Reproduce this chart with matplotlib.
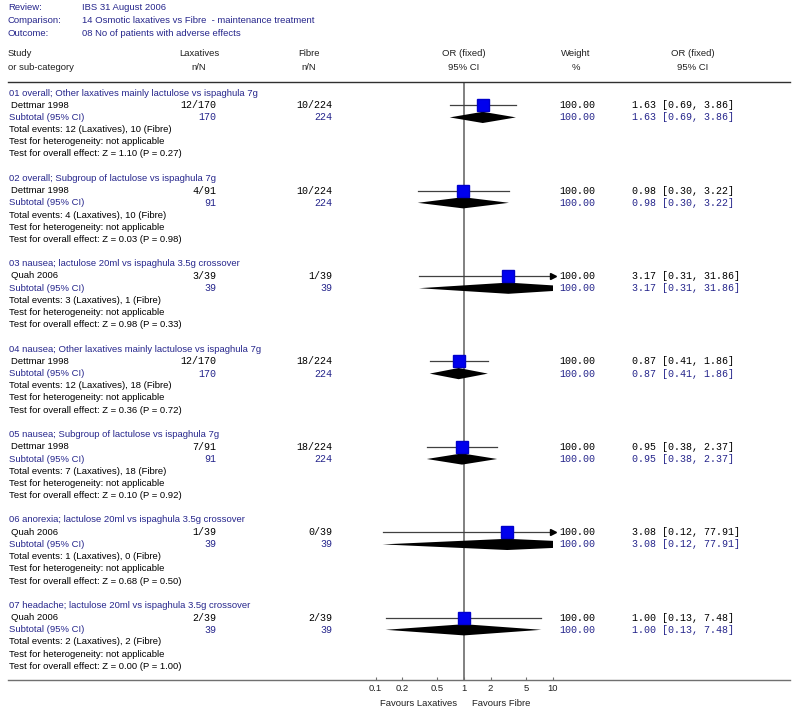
import matplotlib
matplotlib.use("Agg")
import matplotlib.pyplot as plt
import matplotlib.transforms as mtransforms
import matplotlib.patches as mpatches
import numpy as np

# ---------------- data ----------------
review = "IBS 31 August 2006"
comparison = "14 Osmotic laxatives vs Fibre  - maintenance treatment"
outcome = "08 No of patients with adverse effects"

groups = [
    "01 overall; Other laxatives mainly lactulose vs ispaghula 7g",
    "02 overall; Subgroup of lactulose vs ispaghula 7g",
    "03 nausea; lactulose 20ml vs ispaghula 3.5g crossover",
    "04 nausea; Other laxatives mainly lactulose vs ispaghula 7g",
    "05 nausea; Subgroup of lactulose vs ispaghula 7g",
    "06 anorexia; lactulose 20ml vs ispaghula 3.5g crossover",
    "07 headache; lactulose 20ml vs ispaghula 3.5g crossover",
]
studies = ["Dettmar 1998", "Dettmar 1998", "Quah 2006", "Dettmar 1998",
           "Dettmar 1998", "Quah 2006", "Quah 2006"]
lax_events = [12, 4, 3, 12, 7, 1, 2]
lax_total = [170, 91, 39, 170, 91, 39, 39]
fib_events = [10, 10, 1, 18, 18, 0, 2]
fib_total = [224, 224, 39, 224, 224, 39, 39]
weights = [100.00, 100.00, 100.00, 100.00, 100.00, 100.00, 100.00]
or_est = [1.63, 0.98, 3.17, 0.87, 0.95, 3.08, 1.00]
or_lo = [0.69, 0.30, 0.31, 0.41, 0.38, 0.12, 0.13]
or_hi = [3.86, 3.22, 31.86, 1.86, 2.37, 77.91, 7.48]
z_vals = ["1.10", "0.03", "0.98", "0.36", "0.10", "0.68", "0.00"]
p_vals = ["0.27", "0.98", "0.33", "0.72", "0.92", "0.50", "1.00"]
tick_vals = [0.1, 0.2, 0.5, 1, 2, 5, 10]
tick_labels = ["0.1", "0.2", "0.5", "1", "2", "5", "10"]

# ---------------- layout ----------------
W, H = 800, 713
fig = plt.figure(figsize=(W / 100, H / 100), dpi=100)
fig.patch.set_facecolor("white")

BLUE = "#26268c"
SANS = "Liberation Sans"
MONO = "Liberation Mono"
FS = 6.8
FM = 7.2

def fx(px):
    return px / W

def fy(py):
    return 1 - py / H

ax_left, ax_right, ax_top, ax_bot = 8, 790, 82, 680
ax = fig.add_axes([fx(ax_left), fy(ax_bot), fx(ax_right - ax_left), (ax_bot - ax_top) / H])
ax.set_xscale("log")
ppd = 88.5  # pixels per decade
x1 = 464
ax.set_xlim(10 ** ((ax_left - x1) / ppd), 10 ** ((ax_right - x1) / ppd))
pitch = 12.2
row0 = 93
ax.set_ylim((ax_bot - row0) / pitch, (ax_top - row0) / pitch)
ax.set_facecolor("none")
for s in ["left", "right"]:
    ax.spines[s].set_visible(False)
ax.spines["top"].set_color("#303030")
ax.spines["top"].set_linewidth(1.0)
ax.spines["bottom"].set_color("#707070")
ax.spines["bottom"].set_linewidth(1.0)
ax.set_yticks([])
ax.set_xticks(tick_vals)
ax.set_xticklabels(tick_labels, fontsize=FS, family=SANS, color="#202020")
ax.xaxis.set_minor_locator(matplotlib.ticker.NullLocator())
ax.tick_params(axis="x", direction="in", length=2, color="#707070", pad=3)

# vertical line at 1
ax.axvline(1, color="#808080", lw=1.4, zorder=1)

trans = mtransforms.blended_transform_factory(fig.transFigure, ax.transData)

def txt(px, row, s, ha="left", color="black", mono=False, fs=None):
    ax.text(fx(px), row, s, transform=trans, ha=ha, va="center", color=color,
            family=MONO if mono else SANS, fontsize=fs or (FM if mono else FS),
            clip_on=False)

# header texts
for i, (lab, val) in enumerate([("Review:", review), ("Comparison:", comparison), ("Outcome:", outcome)]):
    y = 8 + i * 12.5
    fig.text(fx(8), fy(y), lab, color=BLUE, family=SANS, fontsize=FS, va="center")
    fig.text(fx(82), fy(y), val, color=BLUE, family=SANS, fontsize=FS, va="center")

hy1, hy2 = 54, 67
fig.text(fx(8), fy(hy1), "Study", family=SANS, fontsize=FS, va="center", color="#202020")
fig.text(fx(8), fy(hy2), "or sub-category", family=SANS, fontsize=FS, va="center", color="#202020")
for cx, a, b in [(199, "Laxatives", "n/N"), (309, "Fibre", "n/N"),
                 (464, "OR (fixed)", "95% CI"), (576, "Weight", "%"),
                 (693, "OR (fixed)", "95% CI")]:
    fig.text(fx(cx), fy(hy1), a, family=SANS, fontsize=FS, va="center", ha="center", color="#202020")
    fig.text(fx(cx), fy(hy2), b, family=SANS, fontsize=FS, va="center", ha="center", color="#202020")

# clip rectangle for diamonds: up to 10
clip_rect = mpatches.Rectangle((1e-6, -5), 10 - 1e-6, 100, transform=ax.transData)

for g in range(len(groups)):
    r = g * 7
    txt(9, r, groups[g], color=BLUE)
    # study row
    rs = r + 1
    txt(11, rs, studies[g])
    txt(216, rs, f"{lax_events[g]}/{lax_total[g]}", ha="right", mono=True)
    txt(332, rs, f"{fib_events[g]}/{fib_total[g]}", ha="right", mono=True)
    txt(595, rs, f"{weights[g]:.2f}", ha="right", mono=True)
    ci = f"{or_est[g]:.2f} [{or_lo[g]:.2f}, {or_hi[g]:.2f}]"
    txt(632, rs, ci, mono=True)
    hi_c = min(or_hi[g], 10)
    ax.plot([or_lo[g], hi_c], [rs, rs], color="#404040", lw=0.9, zorder=2)
    if or_hi[g] > 10:
        ax.plot([10], [rs], marker=">", color="black", markersize=4, zorder=3)
    ax.plot([or_est[g]], [rs], marker="s", color="#0000ee", markersize=8,
            markeredgecolor="#0000cc", zorder=4)
    # subtotal row
    rt = r + 2
    txt(9, rt, "Subtotal (95% CI)", color=BLUE)
    txt(216, rt, f"{lax_total[g]}", ha="right", mono=True, color=BLUE)
    txt(332, rt, f"{fib_total[g]}", ha="right", mono=True, color=BLUE)
    txt(595, rt, f"{weights[g]:.2f}", ha="right", mono=True, color=BLUE)
    txt(632, rt, ci, mono=True, color=BLUE)
    h = 0.46
    d = ax.fill([or_lo[g], or_est[g], or_hi[g], or_est[g]],
                [rt, rt - h, rt, rt + h], color="black", lw=0, zorder=3)
    for p in d:
        p.set_clip_path(clip_rect)
    txt(9, r + 3, f"Total events: {lax_events[g]} (Laxatives), {fib_events[g]} (Fibre)")
    txt(9, r + 4, "Test for heterogeneity: not applicable")
    txt(9, r + 5, f"Test for overall effect: Z = {z_vals[g]} (P = {p_vals[g]})")

fig.text(fx(457), fy(704), "Favours Laxatives", ha="right", va="center", family=SANS, fontsize=FS, color="#202020")
fig.text(fx(472), fy(704), "Favours Fibre", ha="left", va="center", family=SANS, fontsize=FS, color="#202020")

fig.savefig("out.png", dpi=100, facecolor="white")
